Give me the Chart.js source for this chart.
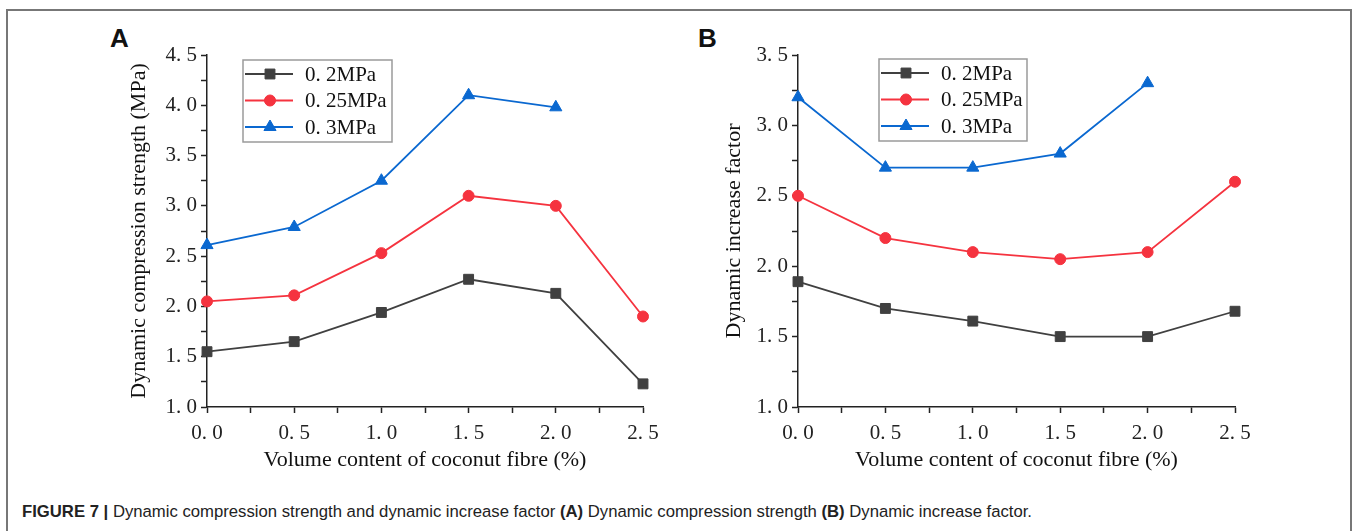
<!DOCTYPE html>
<html>
<head>
<meta charset="utf-8">
<script src="https://cdn.jsdelivr.net/npm/chart.js@4.4.1/dist/chart.umd.min.js"></script>
<style>
html, body { margin: 0; padding: 0; background: #fff; width: 1352px; height: 531px; overflow: hidden; }
#frame { position: absolute; left: 6px; top: 9px; width: 1342px; height: 560px; border: 2px solid #777; }
.tag { position: absolute; top: 25px; font: bold 26px "Liberation Sans", Arial, sans-serif; line-height: 1; color: #111; }
canvas { position: absolute; top: 20px; }
#caption { position: absolute; left: 22px; top: 502px; font: 16.7px "Liberation Sans", Arial, sans-serif; white-space: nowrap; color: #222; }
</style>
</head>
<body>
<div id="frame"></div>
<div class="tag" style="left:110px">A</div>
<div class="tag" style="left:698px">B</div>
<canvas id="chartA" width="580" height="460" style="left:100px"></canvas>
<canvas id="chartB" width="580" height="460" style="left:690px"></canvas>
<div id="caption"><b>FIGURE 7 |</b> Dynamic compression strength and dynamic increase factor <b>(A)</b> Dynamic compression strength <b>(B)</b> Dynamic increase factor.</div>

<script>
// values
const fibreContent = [0, 0.5, 1.0, 1.5, 2.0, 2.5];
const seriesLabels = ['0. 2MPa', '0. 25MPa', '0. 3MPa'];

const strength02 = [1.55, 1.65, 1.94, 2.27, 2.13, 1.23];
const strength025 = [2.05, 2.11, 2.53, 3.10, 3.00, 1.90];
const strength03 = [2.61, 2.79, 3.25, 4.10, 3.98, null];

const dif02 = [1.89, 1.70, 1.61, 1.50, 1.50, 1.68];
const dif025 = [2.50, 2.20, 2.10, 2.05, 2.10, 2.60];
const dif03 = [3.20, 2.70, 2.70, 2.80, 3.30, null];

const xTickLabels = [0.0, 0.5, 1.0, 1.5, 2.0, 2.5];
const strengthTicks = [1.0, 1.5, 2.0, 2.5, 3.0, 3.5, 4.0, 4.5];
const difTicks = [1.0, 1.5, 2.0, 2.5, 3.0, 3.5];

const colors = ['#404040', '#f5333f', '#0a68d0'];
const markers = ['rect', 'circle', 'triangle'];
const markerSize = [7, 5.5, 7];

const serif = '"Liberation Serif", "DejaVu Serif", serif';

function fmt(v) {
    return v.toFixed(1).replace('.', '. ');
}

// majors plus the halfway minor ticks
function withMinors(majors) {
    const out = [];
    majors.forEach((v, i) => {
        out.push({ value: v });
        if (i < majors.length - 1) out.push({ value: (v + majors[i + 1]) / 2 });
    });
    return out;
}

function toPoints(values) {
    return fibreContent.map((x, i) => ({ x: x, y: values[i] })).filter(p => p.y !== null);
}

// legend box drawn inside the plot area
const insideLegend = {
    id: 'insideLegend',
    afterDatasetsDraw(chart, args, opts) {
        const ctx = chart.ctx;
        const area = chart.chartArea;
        const x0 = area.left + opts.dx;
        const y0 = area.top + opts.dy;
        ctx.save();
        ctx.fillStyle = '#fff';
        ctx.fillRect(x0, y0, opts.w, opts.h);
        ctx.strokeStyle = '#9a9a9a';
        ctx.lineWidth = 1.5;
        ctx.strokeRect(x0, y0, opts.w, opts.h);
        chart.data.datasets.forEach((ds, i) => {
            const y = y0 + 14 + i * 26.5;
            ctx.strokeStyle = ds.borderColor;
            ctx.lineWidth = ds.borderWidth;
            ctx.beginPath();
            ctx.moveTo(x0 + 2, y);
            ctx.lineTo(x0 + 50, y);
            ctx.stroke();
            ctx.fillStyle = ds.pointBackgroundColor;
            ctx.strokeStyle = ds.pointBorderColor;
            ctx.lineWidth = 1;
            Chart.helpers.drawPoint(ctx, { pointStyle: ds.pointStyle, radius: ds.pointRadius, borderWidth: 1, rotation: 0 }, x0 + 27, y);
            ctx.fillStyle = '#111';
            ctx.font = '21px ' + serif;
            ctx.textBaseline = 'middle';
            ctx.textAlign = 'left';
            ctx.fillText(ds.label, x0 + 62, y + 1);
        });
        ctx.restore();
    }
};

function makeChart(id, seriesValues, yTicks, yTitle, layout) {
    const datasets = seriesValues.map((vals, i) => ({
        label: seriesLabels[i],
        data: toPoints(vals),
        borderColor: colors[i],
        backgroundColor: colors[i],
        pointBackgroundColor: colors[i],
        pointBorderColor: colors[i],
        pointStyle: markers[i],
        pointRadius: markerSize[i],
        pointBorderWidth: 1,
        borderWidth: 1.8,
        tension: 0,
        clip: false
    }));

    return new Chart(document.getElementById(id), {
        type: 'line',
        data: { datasets: datasets },
        plugins: [insideLegend],
        options: {
            responsive: false,
            animation: false,
            layout: { padding: { top: 35, right: layout.right, left: 0, bottom: 0 } },
            plugins: {
                legend: { display: false },
                tooltip: { enabled: false },
                insideLegend: layout.legend
            },
            scales: {
                x: {
                    type: 'linear',
                    min: xTickLabels[0],
                    max: xTickLabels[xTickLabels.length - 1],
                    afterBuildTicks: s => { s.ticks = withMinors(xTickLabels); },
                    afterFit: s => { s.height = 73; },
                    grid: { drawOnChartArea: false, color: '#222', tickLength: 6, tickWidth: 1.5 },
                    border: { color: '#222', width: 1.5 },
                    ticks: {
                        autoSkip: false,
                        maxRotation: 0,
                        padding: 8,
                        color: '#222',
                        font: { family: serif, size: 21 },
                        callback: v => xTickLabels.includes(v) ? fmt(v) : ''
                    },
                    title: {
                        display: true,
                        text: 'Volume content of coconut fibre (%)',
                        color: '#111',
                        font: { family: serif, size: 22 },
                        padding: { top: 0, bottom: 7 }
                    }
                },
                y: {
                    type: 'linear',
                    min: yTicks[0],
                    max: yTicks[yTicks.length - 1],
                    afterBuildTicks: s => { s.ticks = withMinors(yTicks); },
                    afterFit: s => { s.width = layout.yWidth; },
                    grid: { drawOnChartArea: false, color: '#222', tickLength: 6, tickWidth: 1.5 },
                    border: { color: '#222', width: 1.5 },
                    ticks: {
                        autoSkip: false,
                        padding: 4,
                        color: '#222',
                        font: { family: serif, size: 21 },
                        callback: v => yTicks.includes(v) ? fmt(v) : ''
                    },
                    title: {
                        display: true,
                        text: yTitle,
                        color: '#111',
                        font: { family: serif, size: 22 },
                        padding: { top: layout.titleGap, bottom: 0 }
                    }
                }
            }
        }
    });
}

makeChart('chartA', [strength02, strength025, strength03], strengthTicks,
    'Dynamic compression strength (MPa)',
    { right: 37, yWidth: 107, titleGap: 26, legend: { dx: 36, dy: 5, w: 149, h: 82 } });

makeChart('chartB', [dif02, dif025, dif03], difTicks,
    'Dynamic increase factor',
    { right: 35, yWidth: 108, titleGap: 31, legend: { dx: 81, dy: 4, w: 148, h: 82 } });
</script>
</body>
</html>
